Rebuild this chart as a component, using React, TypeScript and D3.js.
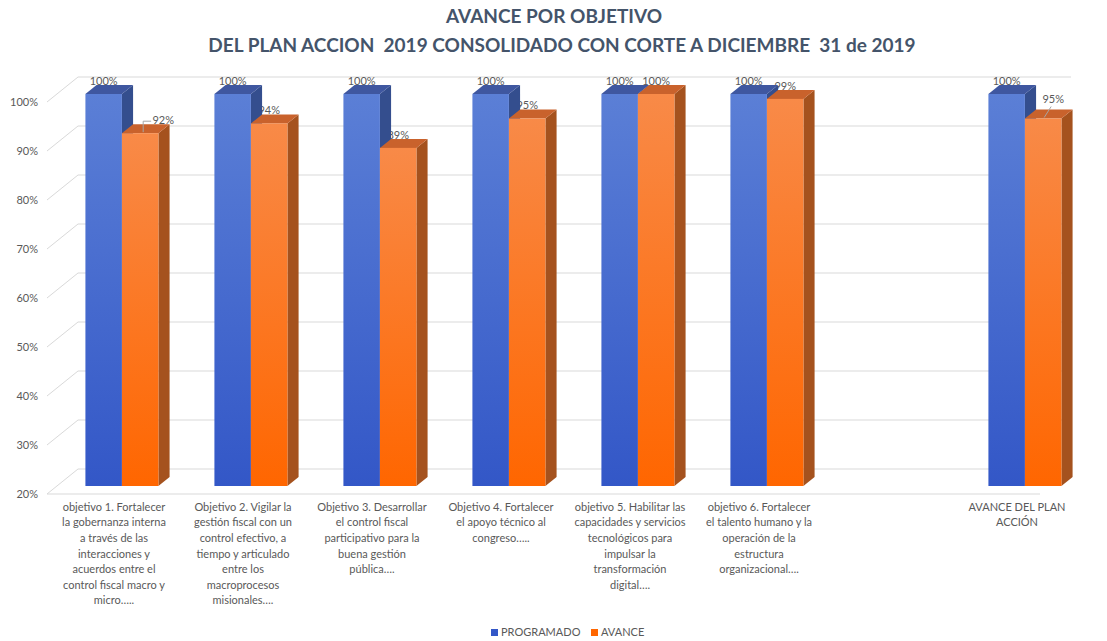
import * as d3 from "d3";

const W = 1107;
const H = 641;

const series = ["PROGRAMADO", "AVANCE"];
const seriesColors = {
  PROGRAMADO: { top: "#3F57A0", side: "#344E8E", front0: "#5B7FD6", front1: "#3357C7" },
  AVANCE: { top: "#C9622C", side: "#A5521E", front0: "#F88A48", front1: "#FF6600" },
};

const categories = ["obj1", "obj2", "obj3", "obj4", "obj5", "obj6", "blank", "total"];
const categoryLines = [
  ["objetivo 1. Fortalecer", "la gobernanza interna", "a través de las", "interacciones y", "acuerdos entre el", "control fiscal macro y", "micro….."],
  ["Objetivo 2. Vigilar la", "gestión fiscal con un", "control efectivo, a", "tiempo y articulado", "entre los", "macroprocesos", "misionales…."],
  ["Objetivo 3. Desarrollar", "el control fiscal", "participativo para la", "buena gestión", "pública…."],
  ["Objetivo 4. Fortalecer", "el apoyo técnico al", "congreso….."],
  ["objetivo 5. Habilitar las", "capacidades y servicios", "tecnológicos para", "impulsar la", "transformación", "digital…."],
  ["objetivo 6. Fortalecer", "el talento humano y la", "operación de la", "estructura", "organizacional…."],
  [],
  ["AVANCE DEL PLAN", "ACCIÓN"],
];
const programado = [1, 1, 1, 1, 1, 1, null, 1];
const avance = [0.92, 0.94, 0.89, 0.95, 1.0, 0.99, null, 0.95];
const yTicks = [0.2, 0.3, 0.4, 0.5, 0.6, 0.7, 0.8, 0.9, 1.0];

// labels that excel moved off the bar (with leader line)
const movedLabels = { obj1: { dx: 23, dy: 0 }, total: { dx: 10, dy: -6 } };

// fake 3d: depth vector and where the bars sit inside the depth
const DX = 31;
const DY = 25;
const dF = 0.32;
const dB = 0.68;

const font = "Lato, 'Open Sans', sans-serif";
const textColor = "#595959";

export default function App() {
  const y = d3.scaleLinear().domain([0.2, 1]).range([494, 102]);
  const x = d3
    .scaleBand()
    .domain(categories)
    .range([47.5, 1079.5])
    .paddingInner(0.434)
    .paddingOuter(0.217);
  const xs = d3.scaleBand().domain(series).range([0, x.bandwidth()]);
  const floorX0 = 47;
  const floorX1 = 1040;
  const fmt = d3.format(".0%");

  const bars = [];
  categories.forEach((c, i) => {
    [programado[i], avance[i]].forEach((v, j) => {
      if (v == null) return;
      const s = series[j];
      const x0 = x(c) + xs(s);
      const x1 = x0 + xs.bandwidth();
      bars.push({ c, s, v, x0, x1, yt: y(v), yb: y(0.2) });
    });
  });

  const drawBar = (b) => {
    const col = seriesColors[b.s];
    const fx0 = b.x0 + dF * DX;
    const fx1 = b.x1 + dF * DX;
    const bx1 = b.x1 + dB * DX;
    const bx0 = b.x0 + dB * DX;
    const ft = b.yt - dF * DY;
    const fb = b.yb - dF * DY;
    const bt = b.yt - dB * DY;
    const bb = b.yb - dB * DY;
    return (
      <g key={b.c + b.s}>
        <polygon points={`${fx1},${ft} ${bx1},${bt} ${bx1},${bb} ${fx1},${fb}`} fill={col.side} />
        <polygon points={`${fx0},${ft} ${fx1},${ft} ${bx1},${bt} ${bx0},${bt}`} fill={col.top} />
        <rect x={fx0} y={ft} width={fx1 - fx0} height={fb - ft} fill={`url(#grad-${b.s})`} />
      </g>
    );
  };

  const labelPos = (b) => ({
    lx: (b.x0 + b.x1) / 2 + dF * DX,
    ly: b.yt - dF * DY - 12,
  });

  const blueBars = bars.filter((b) => b.s === "PROGRAMADO");
  const orangeBars = bars.filter((b) => b.s === "AVANCE");

  return (
    <svg width={W} height={H} style={{ position: "absolute", left: 0, top: 0, background: "#fff" }}>
      <defs>
        {series.map((s) => (
          <linearGradient key={s} id={`grad-${s}`} x1="0" y1="0" x2="0" y2="1">
            <stop offset="0%" stopColor={seriesColors[s].front0} />
            <stop offset="100%" stopColor={seriesColors[s].front1} />
          </linearGradient>
        ))}
      </defs>

      {/* title */}
      <g fontFamily={font} fontWeight="bold" fill="#44546A" fontSize={19} textAnchor="middle">
        <text x={554} y={23}>AVANCE POR OBJETIVO</text>
        <text x={562} y={52} style={{ whiteSpace: "pre" }}>
          DEL PLAN ACCION  2019 CONSOLIDADO CON CORTE A DICIEMBRE  31 de 2019
        </text>
      </g>

      {/* walls */}
      <g stroke="#D9D9D9" strokeWidth={1} fill="none">
        {yTicks.map((t) => (
          <g key={t}>
            <line x1={floorX0} y1={y(t)} x2={floorX0 + DX} y2={y(t) - DY} />
            <line x1={floorX0 + DX} y1={y(t) - DY} x2={floorX1 + DX} y2={y(t) - DY} />
          </g>
        ))}
        <line x1={floorX0} y1={y(0.2)} x2={floorX1} y2={y(0.2)} />
      </g>

      {/* y axis labels */}
      <g fontFamily={font} fontSize={11} fill={textColor} textAnchor="end">
        {yTicks.map((t) => (
          <text key={t} x={38} y={y(t) + 1} dominantBaseline="middle">
            {fmt(t)}
          </text>
        ))}
      </g>

      {/* orange labels that sit behind the bars */}
      <g fontFamily={font} fontSize={11} fill={textColor} textAnchor="middle">
        {orangeBars
          .filter((b) => !movedLabels[b.c])
          .map((b) => {
            const p = labelPos(b);
            return (
              <text key={b.c} x={p.lx} y={p.ly} dominantBaseline="middle">
                {fmt(b.v)}
              </text>
            );
          })}
      </g>

      {blueBars.map(drawBar)}
      {orangeBars.map(drawBar)}

      <g fontFamily={font} fontSize={11} fill={textColor} textAnchor="middle">
        {blueBars.map((b) => {
          const p = labelPos(b);
          return (
            <text key={b.c} x={p.lx} y={p.ly} dominantBaseline="middle">
              {fmt(b.v)}
            </text>
          );
        })}
        {orangeBars
          .filter((b) => movedLabels[b.c])
          .map((b) => {
            const p = labelPos(b);
            const m = movedLabels[b.c];
            const tx = p.lx + m.dx;
            const ty = p.ly + m.dy;
            const topY = b.yt - dF * DY - 1;
            const leader =
              b.c === "obj1"
                ? `M${tx - 12},${ty} L${tx - 20},${ty} L${tx - 20},${topY}`
                : `M${tx - 2},${ty + 6} L${tx - 9},${topY}`;
            return (
              <g key={b.c}>
                <path d={leader} fill="none" stroke="#A6A6A6" strokeWidth={1} />
                <text x={tx} y={ty} dominantBaseline="middle">
                  {fmt(b.v)}
                </text>
              </g>
            );
          })}
      </g>

      {/* category labels */}
      <g fontFamily={font} fontSize={11} fill={textColor} textAnchor="middle">
        {categories.map((c, i) => (
          <text key={c} x={x(c) + x.bandwidth() / 2 + 2} y={508}>
            {categoryLines[i].map((line, k) => (
              <tspan key={k} x={x(c) + x.bandwidth() / 2 + 2} y={508 + k * 15.6} dominantBaseline="middle">
                {line}
              </tspan>
            ))}
          </text>
        ))}
      </g>

      {/* legend */}
      <g fontFamily={font} fontSize={11} fill={textColor}>
        {series.map((s, i) => {
          const lx = i === 0 ? 491 : 591;
          return (
            <g key={s}>
              <rect x={lx} y={629} width={7} height={7} fill={seriesColors[s].front1} />
              <text x={lx + 10} y={633} dominantBaseline="middle">
                {s}
              </text>
            </g>
          );
        })}
      </g>
    </svg>
  );
}
